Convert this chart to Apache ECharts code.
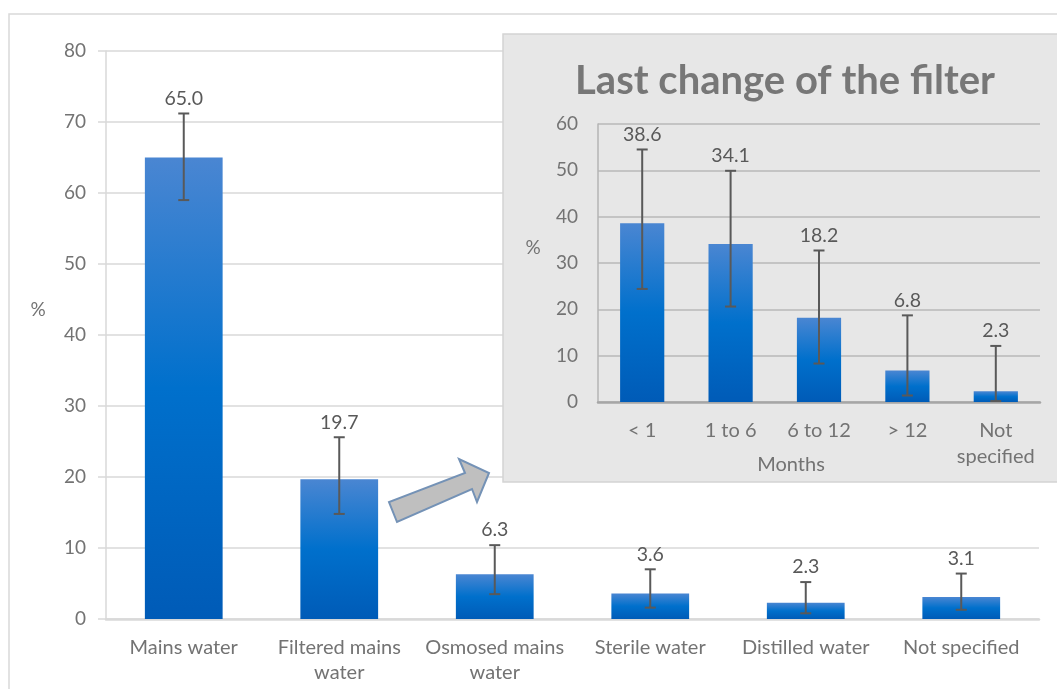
<!DOCTYPE html>
<html>
<head>
<meta charset="utf-8">
<script src="https://cdn.jsdelivr.net/npm/echarts@6/dist/echarts.min.js"></script>
<style>html,body{margin:0;padding:0;background:#fff;}#c{width:1057px;height:689px;}</style>
</head>
<body>
<div id="c"></div>
<script>
const mainCategories = ['Mains water', 'Filtered mains\nwater', 'Osmosed mains\nwater', 'Sterile water', 'Distilled water', 'Not specified'];
const mainValues = [65.0, 19.7, 6.3, 3.6, 2.3, 3.1];
const mainLow = [59.0, 14.8, 3.5, 1.6, 0.8, 1.3];
const mainHigh = [71.2, 25.6, 10.4, 7.0, 5.2, 6.4];

const insetCategories = ['< 1', '1 to 6', '6 to 12', '> 12', 'Not\nspecified'];
const insetValues = [38.6, 34.1, 18.2, 6.8, 2.3];
const insetLow = [24.4, 20.6, 8.3, 1.4, 0.2];
const insetHigh = [54.5, 49.9, 32.7, 18.7, 12.1];

const insetTitle = 'Last change of the filter';
const insetAxisName = 'Months';
const yName = '%';

const FONT = 'Lato, "Open Sans", sans-serif';
const barGradient = new echarts.graphic.LinearGradient(0, 0, 0, 1, [
  {offset: 0, color: '#4a86d2'},
  {offset: 0.5, color: '#0070cc'},
  {offset: 1, color: '#005bb7'}
]);

function errRender(params, api) {
  const x = api.value(0);
  const lo = api.coord([x, api.value(1)]);
  const hi = api.coord([x, api.value(2)]);
  const cx = lo[0];
  const w = 5.5;
  const st = {stroke: '#595959', lineWidth: 2};
  return {
    type: 'group',
    children: [
      {type: 'line', shape: {x1: cx, y1: lo[1], x2: cx, y2: hi[1]}, style: st},
      {type: 'line', shape: {x1: cx - w, y1: hi[1], x2: cx + w, y2: hi[1]}, style: st},
      {type: 'line', shape: {x1: cx - w, y1: lo[1], x2: cx + w, y2: lo[1]}, style: st},
      {type: 'text', x: cx, y: hi[1] - 15, style: {
        text: api.value(3).toFixed(1), fill: '#595959', fontSize: 19.5, fontFamily: FONT,
        align: 'center', verticalAlign: 'middle'}}
    ]
  };
}

const chart = echarts.init(document.getElementById('c'));
chart.setOption({
  animation: false,
  backgroundColor: '#ffffff',
  grid: [
    {left: 106, top: 51, width: 933, height: 568},
    {left: 598, top: 124, width: 442, height: 278}
  ],
  xAxis: [
    {
      type: 'category', gridIndex: 0, data: mainCategories,
      axisLine: {lineStyle: {color: '#d9d9d9', width: 2.5}},
      axisTick: {show: false},
      axisLabel: {color: '#737373', fontSize: 20, fontFamily: FONT, interval: 0, margin: 16, lineHeight: 25}
    },
    {
      type: 'category', gridIndex: 1, data: insetCategories, zlevel: 1, z: 1,
      axisLine: {lineStyle: {color: '#a6a6a6', width: 2.5}},
      axisTick: {show: false},
      axisLabel: {color: '#737373', fontSize: 20, fontFamily: FONT, interval: 0, margin: 16, lineHeight: 26}
    }
  ],
  yAxis: [
    {
      type: 'value', gridIndex: 0, min: 0, max: 80, interval: 10,
      axisLine: {show: true, lineStyle: {color: '#d9d9d9', width: 1.5}},
      axisTick: {show: true, length: 8, lineStyle: {color: '#d9d9d9', width: 1.5}},
      splitLine: {lineStyle: {color: '#d9d9d9', width: 1.5}},
      axisLabel: {color: '#737373', fontSize: 19, fontFamily: FONT, margin: 20}
    },
    {
      type: 'value', gridIndex: 1, min: 0, max: 60, interval: 10, zlevel: 1, z: 1,
      axisLine: {show: true, lineStyle: {color: '#b4b4b4', width: 1.5}},
      axisTick: {show: false},
      splitLine: {lineStyle: {color: '#b8b8b8', width: 1.5}},
      axisLabel: {color: '#737373', fontSize: 19, fontFamily: FONT, margin: 20}
    }
  ],
  series: [
    {
      type: 'bar', xAxisIndex: 0, yAxisIndex: 0, data: mainValues, barWidth: '50%',
      itemStyle: {color: barGradient}, z: 2
    },
    {
      type: 'custom', xAxisIndex: 0, yAxisIndex: 0, renderItem: errRender, z: 5,
      encode: {x: 0, y: [1, 2]},
      data: mainCategories.map((c, i) => [i, mainLow[i], mainHigh[i], mainValues[i]])
    },
    {
      type: 'bar', xAxisIndex: 1, yAxisIndex: 1, data: insetValues, barWidth: '50%',
      itemStyle: {color: barGradient}, zlevel: 1, z: 2
    },
    {
      type: 'custom', xAxisIndex: 1, yAxisIndex: 1, renderItem: errRender, zlevel: 1, z: 5,
      encode: {x: 0, y: [1, 2]},
      data: insetCategories.map((c, i) => [i, insetLow[i], insetHigh[i], insetValues[i]])
    }
  ],
  graphic: [
    {type: 'rect', zlevel: 0, z: -1, silent: true,
     shape: {x: 9, y: 14, width: 1100, height: 700},
     style: {fill: 'none', stroke: '#d9d9d9', lineWidth: 1.5}},
    {type: 'text', zlevel: 0, z: 10, x: 38, y: 310,
     style: {text: yName, fill: '#737373', fontSize: 19, fontFamily: FONT, align: 'center', verticalAlign: 'middle'}},
    {type: 'polygon', zlevel: 0, z: 10,
     shape: {points: [[397, 522], [389, 502], [465, 473], [459, 459], [489, 473], [477, 502], [472, 489]]},
     style: {fill: '#bfbfbf', stroke: '#7492b6', lineWidth: 2, lineJoin: 'miter'}},
    {type: 'rect', zlevel: 1, z: 0, silent: true,
     shape: {x: 503, y: 34, width: 600, height: 448},
     style: {fill: '#e7e7e7', stroke: '#d4d4d4', lineWidth: 1.5}},
    {type: 'text', zlevel: 1, z: 10, x: 785, y: 81,
     style: {text: insetTitle, fill: '#777777', fontSize: 40, fontWeight: 'bold', fontFamily: FONT, align: 'center', verticalAlign: 'middle'}},
    {type: 'text', zlevel: 1, z: 10, x: 533, y: 248,
     style: {text: yName, fill: '#737373', fontSize: 19, fontFamily: FONT, align: 'center', verticalAlign: 'middle'}},
    {type: 'text', zlevel: 1, z: 10, x: 791, y: 465,
     style: {text: insetAxisName, fill: '#737373', fontSize: 20, fontFamily: FONT, align: 'center', verticalAlign: 'middle'}}
  ]
});
</script>
</body>
</html>
